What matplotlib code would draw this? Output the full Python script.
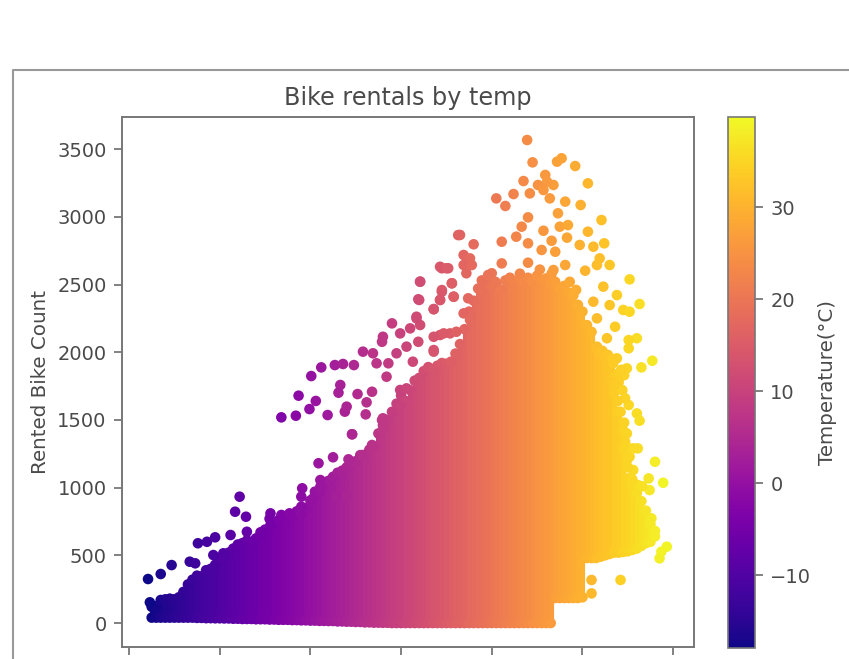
import numpy as np
import matplotlib
matplotlib.use('Agg')
import matplotlib.pyplot as plt
from matplotlib.colors import Normalize
from matplotlib.lines import Line2D

# solid part of the cloud, one low/high range per temperature step
band_temp = [-17.5, -17, -16.5, -16, -15.5, -15, -14.5, -14, -13.5, -13,
             -12.5, -12, -11.5, -11, -10.5, -10, -9.5, -9, -8.5, -8,
             -7.5, -7, -6.5, -6, -5.5, -5, -4.5, -4, -3.5, -3,
             -2.5, -2, -1.5, -1, -0.5, 0, 0.5, 1, 1.5, 2,
             2.5, 3, 3.5, 4, 4.5, 5, 5.5, 6, 6.5, 7,
             7.5, 8, 8.5, 9, 9.5, 10, 10.5, 11, 11.5, 12,
             12.5, 13, 13.5, 14, 14.5, 15, 15.5, 16, 16.5, 17,
             17.5, 18, 18.5, 19, 19.5, 20, 20.5, 21, 21.5, 22,
             22.5, 23, 23.5, 24, 24.5, 25, 25.5, 26, 26.5, 27,
             27.5, 28, 28.5, 29, 29.5, 30, 30.5, 31, 31.5, 32,
             32.5, 33, 33.5, 34, 34.5, 35, 35.5, 36, 36.5, 37,
             37.5, 38]
band_high = [120, 125, 170, 175, 180, 175, 190, 230, 285, 320,
             350, 345, 390, 400, 430, 480, 470, 520, 550, 580,
             590, 610, 600, 625, 635, 690, 770, 740, 760, 790,
             780, 800, 825, 810, 850, 905, 970, 960, 1020, 1050,
             1080, 1110, 1125, 1150, 1170, 1195, 1240, 1225, 1280, 1300,
             1400, 1460, 1500, 1560, 1620, 1680, 1640, 1720, 1790, 1810,
             1860, 1890, 1875, 1900, 1920, 1915, 1930, 1990, 2060, 2170,
             2300, 2380, 2470, 2455, 2510, 2480, 2500, 2460, 2530, 2550,
             2510, 2535, 2515, 2550, 2520, 2565, 2530, 2545, 2505, 2520,
             2475, 2490, 2440, 2420, 2350, 2300, 2200, 2150, 2030, 1990,
             1960, 1880, 1700, 1560, 1420, 1060, 1010, 960, 900, 830,
             730, 680]
band_low = [40, 40, 40, 40, 40, 40, 40, 40, 40, 40,
            38, 38, 36, 36, 35, 35, 34, 34, 32, 32,
            30, 30, 30, 28, 28, 28, 26, 26, 24, 24,
            24, 22, 22, 20, 20, 18, 18, 16, 16, 15,
            15, 12, 12, 10, 10, 8, 8, 5, 5, 3,
            3, 2, 2, 0, 0, 0, 0, 0, 0, 0,
            0, 0, 0, 0, 0, 0, 0, 0, 0, 0,
            0, 0, 0, 0, 0, 0, 0, 0, 0, 0,
            0, 0, 0, 0, 0, 0, 0, 0, 0, 185,
            185, 185, 185, 185, 185, 190, 480, 480, 480, 490,
            500, 510, 520, 520, 525, 530, 540, 550, 570, 590,
            600, 640]

# single points outside the solid part
pt_temp = [-17.9, -16.5, -15.3, -17.7, -13.3, -12.7, -12.4, -11.4, -10.5, -8.8,
           -7.8, -8.3, -7.1, -7, -5.5, -4.4, -4.4, -3.2, -2.3, -1,
           -0.9, -1, 0.3, 0.9, 2.5, 4.2, 5.8, 6.8, 4.6, 8,
           1.1, 1.1, 2.9, 4, -9.6, -10.7,
           -3.2, -1.6, -1.3, -0.1, 0.6, 0.1, 1.2, 2.7, 3.6, 4.8,
           1.9, 3.8, 4, 3.3, 3.1, 5.2, 6.8, 6.2, 6.1, 4.6,
           5.8, 6.9, 7.3, 8.6, 8.4, 9, 8, 7.9, 9.9, 11,
           11.7, 12.1, 11.9, 10.6, 9.5, 11.3, 12.1, 11.9, 14.5, 15.2,
           16.3, 15.6, 14.5, 14.3, 13.6, 15.8, 14.3, 13.6, 15.4, 9.9,
           10.6, 9.9, 7.9, 8,
           23.9, 24.5, 27.2, 27.7, 29.2, 30.6, 23.5, 25.9, 25.1, 26.8,
           26.1, 24.2, 26.4, 25.7, 22.4, 20.5, 21.5, 28.1, 29.8, 27.3,
           32.1, 24, 23.3, 22.7, 24, 21.1, 25.7, 27.5, 28.4, 28.3,
           26.6, 30.6, 29.7, 31.2, 32.4, 27, 25.5, 31.9, 33, 30.3,
           31.6, 28.1, 26.8, 24, 21.1, 20,
           16.5, 18, 16.9, 17.6, 16.9, 17.8, 17.2, 14.3, 15, 12.1,
           12, 15.6, 14.5, 15.8, 13.6, 14.3, 16.9, 17.6, 17.4, 11.7,
           13.6, 14.7, 16.1, 13.6,
           35.2, 36.3, 32.3, 33.8, 33, 34.5, 35.2, 31.2, 31.6, 33.6,
           32.7, 36, 35.1, 35.1, 37.7, 36.5, 34.9, 33.8, 31.6,
           35.1, 36, 36.3, 34.5, 36.1, 35.2, 38, 38.9, 37.3, 35.6,
           35, 36.1, 37.4, 39.3, 38.5, 38.7, 34.2, 31, 31, 37.6,
           18.9, 19.6, 20.4, 23.1, 25.3, 26.6, 28.6, 29.3,
           32.2, 32.8, 33.3, 34.2, 34.6, 33, 33.5, 34, 34.4, 34.7,
           33.4, 33.9, 34.3, 33.2, 33.6, 33.9, 34.2, 34.6, 34.9, 34.7, 34.9,
           35, 34.9, 35.5, 35.6, 36.6]
pt_count = [325, 362, 428, 153, 453, 441, 589, 600, 633, 650,
            933, 822, 785, 674, 670, 810, 724, 798, 810, 859,
            995, 933, 921, 1180, 1224, 1209, 1241, 1315, 1394, 1512,
            1056, 1007, 933, 945, 515, 502,
            1519, 1531, 1679, 1580, 1640, 1824, 1888, 1905, 1913, 1905,
            1536, 1561, 1598, 1758, 1701, 1691, 1708, 1630, 1541, 1394,
            2004, 1992, 1918, 1918, 1819, 2213, 2114, 2077, 2139, 2176,
            2262, 2201, 2077, 2041, 1992, 1930, 2521, 2391, 2620, 2620,
            2865, 2509, 2459, 2386, 2317, 2410, 2127, 2016, 2139, 1721,
            1733, 1598, 1499, 1425,
            3567, 3402, 3407, 3432, 3375, 3247, 3264, 3309, 3235, 3235,
            3259, 3173, 3136, 3198, 3168, 3136, 3080, 3112, 3087, 3026,
            2976, 2996, 2927, 2853, 2804, 2816, 2897, 2927, 2939, 2846,
            2823, 2890, 2792, 2779, 2804, 2742, 2755, 2693, 2644, 2602,
            2644, 2644, 2607, 2661, 2656, 2583,
            2866, 2797, 2718, 2693, 2644, 2644, 2583, 2631, 2620, 2521,
            2386, 2509, 2447, 2410, 2319, 2386, 2287, 2238, 2398, 2250,
            2114, 2139, 2151, 2004,
            2538, 2356, 2484, 2422, 2348, 2312, 2299, 2373, 2250, 2188,
            2103, 2103, 2090, 2029, 1937, 1888, 1881, 1955, 2041,
            1610, 1548, 1494, 1290, 1290, 1228, 1191, 1036, 1068, 1130,
            1068, 1019, 982, 564, 478, 527, 318, 318, 219, 773,
            2530, 2570, 2520, 2580, 2610, 2580, 2520, 2460,
            2010, 1980, 1950, 1860, 1830, 1880, 1820, 1780, 1720, 1660,
            1920, 1840, 1870, 1780, 1760, 1640, 1560, 1480, 1400, 1340, 1300,
            1150, 1200, 1060, 1290, 1010]

x_ticks = [-20, -10, 0, 10, 20, 30, 40]
y_ticks = [0, 500, 1000, 1500, 2000, 2500, 3000, 3500]
cbar_ticks = [-10, 0, 10, 20, 30]

W, H = 849, 659
TXT = '#4a4a4a'
EDGE = '#777777'

fig = plt.figure(figsize=(W / 100, H / 100), dpi=100)
ax = fig.add_axes([122 / W, 1 - 647 / H, 572 / W, 530 / H])
cax = fig.add_axes([728 / W, 1 - 648 / H, 27 / W, 531 / H])

norm = Normalize(-17.9, 39.8)
cmap = plt.cm.plasma

ax.vlines(band_temp, band_low, band_high, colors=cmap(norm(np.array(band_temp))), linewidth=3.7, zorder=2)
ax.scatter(band_temp, band_high, c=band_temp, cmap=cmap, norm=norm, s=58, linewidths=0, zorder=3)
ax.scatter(band_temp, band_low, c=band_temp, cmap=cmap, norm=norm, s=58, linewidths=0, zorder=3)
sc = ax.scatter(pt_temp, pt_count, c=pt_temp, cmap=cmap, norm=norm, s=58, linewidths=0, zorder=3)

ax.set_xlim(-20.77, 42.3)
ax.set_ylim(-177, 3737)
ax.set_xticks(x_ticks)
ax.set_yticks(y_ticks)
ax.tick_params(axis='x', labelbottom=False, length=6, width=1.3, color=EDGE)
ax.tick_params(axis='y', labelsize=14, length=6, width=1.3, color=EDGE, labelcolor=TXT, pad=5)
ax.set_title('Bike rentals by temp', fontsize=17.2, color=TXT, pad=9)
ax.set_ylabel('Rented Bike Count', fontsize=14.3, color=TXT, labelpad=5)
for s in ax.spines.values():
    s.set_color(EDGE)
    s.set_linewidth(1.4)

cb = fig.colorbar(sc, cax=cax)
cb.set_ticks(cbar_ticks)
cb.ax.tick_params(labelsize=14, length=6, width=1.3, color=EDGE, labelcolor=TXT, pad=5)
cb.set_label('Temperature(°C)', fontsize=14.3, color=TXT, labelpad=5)
cb.outline.set_edgecolor(EDGE)
cb.outline.set_linewidth(1.2)

# frame of the screenshot the chart sits in
fig.add_artist(Line2D([13 / W, 13 / W, 1], [0, 1 - 70 / H, 1 - 70 / H], color='#999999', linewidth=1.5))

fig.savefig('out.png', dpi=100)
